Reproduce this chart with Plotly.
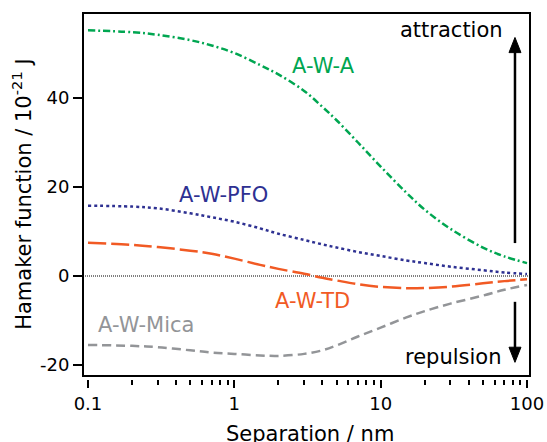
import plotly.graph_objects as go

# ---- data ----
separation_nm = [0.1, 0.2, 0.3, 0.5, 0.7, 1, 1.5, 2, 3, 4, 5, 7, 10, 15, 20, 30, 50, 70, 100]
awa  = [55.2, 54.8, 54.2, 53.0, 51.8, 50.1, 47.4, 45.3, 41.6, 38.0, 35.0, 30.0, 24.6, 18.7, 14.9, 10.6, 6.4, 4.4, 2.9]
awpfo = [15.8, 15.6, 15.2, 14.1, 13.2, 12.2, 10.7, 9.5, 8.1, 7.1, 6.4, 5.4, 4.5, 3.5, 2.9, 2.1, 1.3, 0.8, 0.45]
awtd = [7.5, 7.0, 6.5, 5.7, 5.0, 3.9, 2.5, 1.6, 0.5, -0.4, -1.0, -1.85, -2.45, -2.75, -2.7, -2.4, -1.65, -1.15, -0.75]
awmica = [-15.5, -15.7, -16.0, -16.7, -17.2, -17.5, -17.85, -17.95, -17.5, -16.7, -15.6, -13.6, -11.6, -9.3, -7.9, -6.2, -4.4, -3.1, -2.0]

series_names = ["A-W-A", "A-W-PFO", "A-W-TD", "A-W-Mica"]
x_tick_vals = [0.1, 1, 10, 100]
x_tick_text = ["0.1", "1", "10", "100"]
x_minor_vals = [m * d for d in [0.1, 1, 10] for m in range(2, 10)]
y_tick_vals = [-20, 0, 20, 40]
y_tick_text = ["-20", "0", "20", "40"]

GREEN = "#00a651"
BLUE = "#2e3192"
ORANGE = "#f15a24"
GRAY = "#939598"
FONT = "DejaVu Sans"

fig = go.Figure()
fig.add_trace(go.Scatter(x=separation_nm, y=awa, mode="lines", name=series_names[0],
                         line=dict(color=GREEN, width=2.5, dash="7px,3px,2px,3px", shape="spline")))
fig.add_trace(go.Scatter(x=separation_nm, y=awpfo, mode="lines", name=series_names[1],
                         line=dict(color=BLUE, width=2.5, dash="3px,3px", shape="spline")))
fig.add_trace(go.Scatter(x=separation_nm, y=awtd, mode="lines", name=series_names[2],
                         line=dict(color=ORANGE, width=2.5, dash="18px,5px", shape="spline")))
fig.add_trace(go.Scatter(x=separation_nm, y=awmica, mode="lines", name=series_names[3],
                         line=dict(color=GRAY, width=2.5, dash="9px,5px", shape="spline")))

# zero line
fig.add_shape(type="line", xref="x domain", yref="y", x0=0, x1=1, y0=0, y1=0,
              line=dict(color="black", width=1, dash="1px,1px"), layer="below")
# frame
fig.add_shape(type="rect", xref="x domain", yref="y domain", x0=0, x1=1, y0=0, y1=1,
              line=dict(color="black", width=2))

# curve labels
labels = [
    (series_names[0], 0.606, 47.2, GREEN),
    (series_names[1], -0.077, 18.2, BLUE),
    (series_names[2], 0.531, -5.6, ORANGE),
    (series_names[3], -0.597, -11.0, GRAY),
    ("attraction", 1.481, 55.3, "black"),
    ("repulsion", 1.495, -18.2, "black"),
]
for txt, lx, ly, col in labels:
    fig.add_annotation(x=lx, y=ly, xref="x", yref="y", text=txt, showarrow=False,
                       font=dict(family=FONT, size=21, color=col), xanchor="center", yanchor="middle")

# arrows (shaft + filled head)
AX = 0.9664
HW = 0.0134
fig.add_shape(type="line", xref="paper", yref="y", x0=AX, x1=AX, y0=7.4, y1=51.0,
              line=dict(color="black", width=2.5))
fig.add_shape(type="path", xref="paper", yref="y",
              path=f"M {AX},53.6 L {AX - HW},50.2 L {AX + HW},50.2 Z",
              fillcolor="black", line=dict(color="black", width=1))
fig.add_shape(type="line", xref="paper", yref="y", x0=AX, x1=AX, y0=-5.8, y1=-16.6,
              line=dict(color="black", width=2.5))
fig.add_shape(type="path", xref="paper", yref="y",
              path=f"M {AX},-19.4 L {AX - HW},-16.0 L {AX + HW},-16.0 Z",
              fillcolor="black", line=dict(color="black", width=1))

# axis titles
fig.add_annotation(x=0.508, y=-0.15, xref="paper", yref="paper", text="Separation / nm", showarrow=False,
                   font=dict(family=FONT, size=21, color="black"), xanchor="center", yanchor="middle")
fig.add_annotation(x=-0.135, y=0.505, xref="paper", yref="paper",
                   text="Hamaker function / 10<sup>-21</sup> J", textangle=-90, showarrow=False,
                   font=dict(family=FONT, size=21, color="black"), xanchor="center", yanchor="middle")

fig.update_layout(
    width=547, height=442,
    margin=dict(l=83, r=17, t=13, b=63, autoexpand=False),
    paper_bgcolor="white", plot_bgcolor="white",
    showlegend=False,
    font=dict(family=FONT, size=18, color="black"),
    xaxis=dict(type="log", range=[-1.034, 2.0205], showgrid=False, zeroline=False, showline=False,
               automargin=False,
               tickmode="array", tickvals=x_tick_vals, ticktext=x_tick_text,
               ticks="outside", ticklen=8, tickwidth=1.5, tickcolor="black",
               minor=dict(tickmode="array", tickvals=x_minor_vals, ticks="outside", ticklen=5,
                          tickwidth=1.5, tickcolor="black", showgrid=False),
               anchor="free", position=0,
               tickfont=dict(family=FONT, size=18, color="black")),
    yaxis=dict(range=[-22.47, 59.1], domain=[3 / 366, 1], showgrid=False, zeroline=False, showline=False,
               automargin=False,
               tickmode="array", tickvals=y_tick_vals, ticktext=y_tick_text,
               ticks="outside", ticklen=9, tickwidth=1.5, tickcolor="black",
               tickfont=dict(family=FONT, size=18, color="black")),
)

fig.write_html("out.html", config={"displayModeBar": False},
               post_script="document.body.style.margin='0';document.body.style.padding='0';")
